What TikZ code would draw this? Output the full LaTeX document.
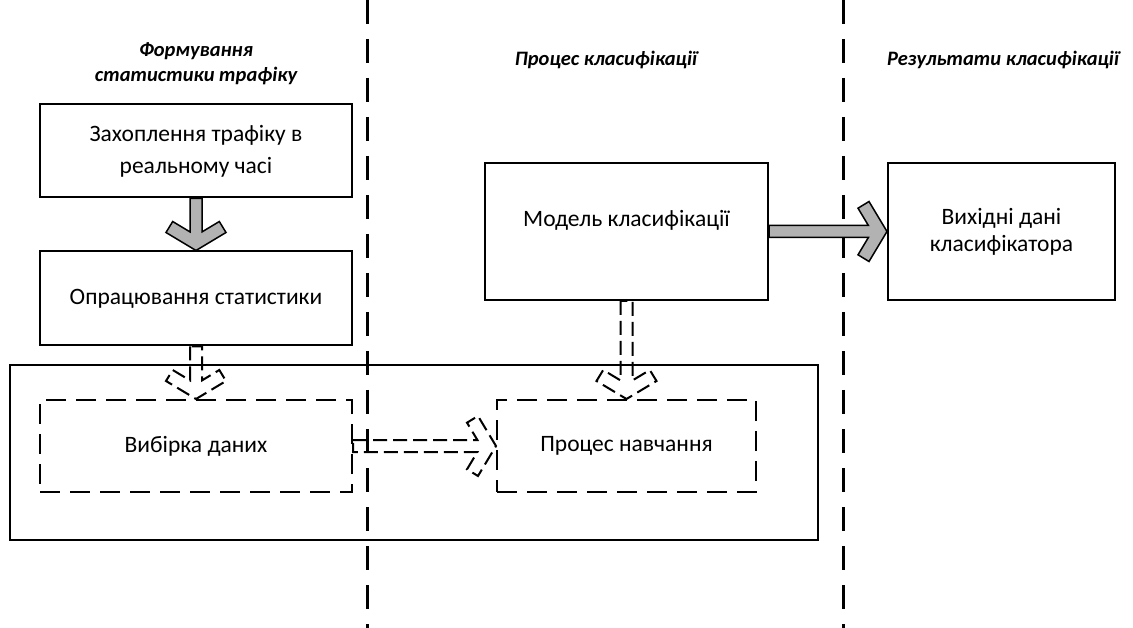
\documentclass[tikz,border=0pt]{standalone}
\usepackage{fontspec}
\setmainfont{Carlito}
\usepackage{tikz}
\usetikzlibrary{positioning, calc}

\tikzset{
    box/.style={draw, line width=2pt, align=center, inner sep=0pt,
        font=\fontsize{23.5}{32}\selectfont},
    dashbox/.style={box, dash pattern=on 20pt off 10pt},
    heading/.style={align=center, font=\fontsize{20.5}{25}\selectfont\bfseries\itshape},
    separator/.style={line width=3pt, dash pattern=on 24pt off 15pt},
    grayarrow/.style={draw, line width=1.5pt, fill=gray!60, line join=miter},
    hollowarrow/.style={draw, line width=2pt, dash pattern=on 14pt off 6pt},
    chevron down/.style={to path={let \p1=(\tikztostart), \p2=(\tikztotarget) in
        (\x1-6pt,\y1) -- (\x1-6pt,\y2+18.6pt) -- (\x1-23.3pt,\y2+29pt) -- (\x1-30pt,\y2+18pt)
        -- (\x1,\y2) -- (\x1+30pt,\y2+18pt) -- (\x1+23.3pt,\y2+29pt) -- (\x1+6pt,\y2+18.6pt)
        -- (\x1+6pt,\y1) -- cycle}},
    chevron right/.style={to path={let \p1=(\tikztostart), \p2=(\tikztotarget) in
        (\x1,\y1+6pt) -- (\x2-18.6pt,\y1+6pt) -- (\x2-29pt,\y1+23.3pt) -- (\x2-18pt,\y1+30pt)
        -- (\x2,\y1) -- (\x2-18pt,\y1-30pt) -- (\x2-29pt,\y1-23.3pt) -- (\x2-18.6pt,\y1-6pt)
        -- (\x1,\y1-6pt) -- cycle}}
}

\begin{document}
\begin{tikzpicture}[x=1pt, y=-1pt]
    \useasboundingbox (0,0) rectangle (1133,628);

    % columns
    \draw[separator] (367,0) -- (367,628);
    \draw[separator] (843,0) -- (843,628);

    \node[heading] (head1) at (196,64) {Формування\\статистики трафіку};
    \node[heading] (head2) at (606,60) {Процес класифікації};
    \node[heading] (head3) at (1003,60) {Результати класифікації};

    % boxes
    \node[box, minimum width=312pt, minimum height=93pt] (capture) at (196,151)
        {Захоплення трафіку в\\реальному часі};
    \node[box, minimum width=312pt, minimum height=94pt] (stats) at (196,298.5)
        {Опрацювання статистики};
    \node[draw, line width=2pt, minimum width=808pt, minimum height=175pt] (frame) at (414,452.5) {};
    \node[dashbox, minimum width=312pt, minimum height=92pt] (sample) at (196,446) {Вибірка даних};
    \node[dashbox, minimum width=259pt, minimum height=92pt] (training) at (626.5,446) {Процес навчання};
    \node[box, minimum width=283pt, minimum height=137pt, text depth=27pt] (model) at (626.5,231.5)
        {Модель класифікації};
    \node[box, minimum width=227pt, minimum height=137pt, font=\fontsize{23.5}{27}\selectfont]
        (output) at (1001.5,231.5) {Вихідні дані\\класифікатора};

    % arrows
    \draw[grayarrow] (capture.south) to[chevron down] (stats.north);
    \draw[grayarrow] (model.east) to[chevron right] (output.west);
    \draw[hollowarrow] (stats.south) to[chevron down] (sample.north);
    \draw[hollowarrow] (model.south) to[chevron down] (training.north);
    \draw[hollowarrow] (sample.east) to[chevron right] (training.west);
\end{tikzpicture}
\end{document}
